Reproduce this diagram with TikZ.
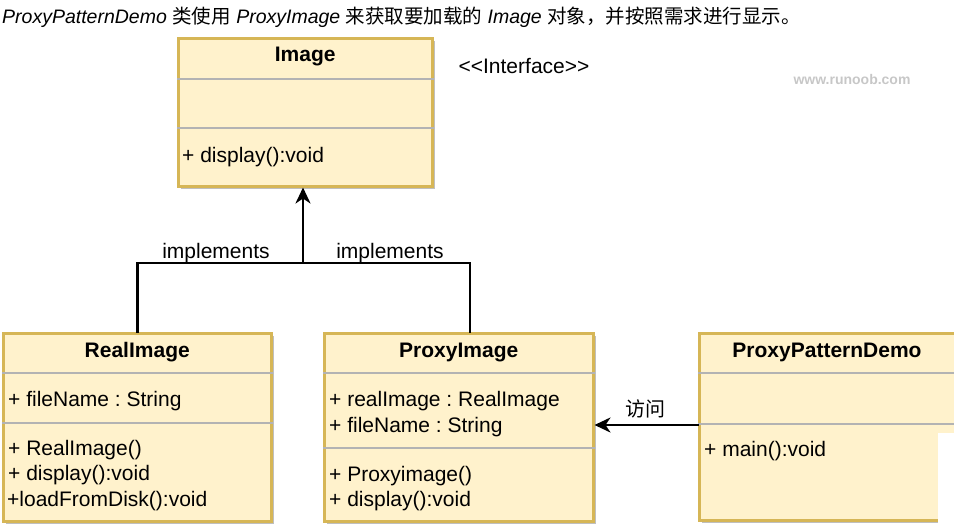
\documentclass[tikz,border=0pt]{standalone}
\usepackage{fontspec}
\setmainfont{Liberation Sans}
\newfontfamily\cjk{Noto Sans CJK SC}
\usetikzlibrary{arrows.meta,shadows,positioning}

\begin{document}
\frenchspacing
\begin{tikzpicture}[x=1pt,y=-1pt,
    classbox/.style={draw=boxline, fill=boxfill, line width=2.5pt, anchor=north west,
      inner sep=0pt, drop shadow={shadow xshift=3pt, shadow yshift=-3pt, fill=black!25, opacity=1}},
    sepline/.style={draw=sepgray, line width=1.5pt},
    head/.style={inner sep=0pt, yshift=-2pt, font=\fontsize{21}{25}\selectfont\bfseries},
    item/.style={anchor=west, inner sep=0pt, yshift=-2pt, font=\fontsize{21}{25}\selectfont},
    conn/.style={line width=2.5pt, line cap=rect},
    tip/.style={-{Stealth[length=16pt,width=15pt,inset=5pt]}}]
  \definecolor{boxfill}{HTML}{FFF2CC}
  \definecolor{boxline}{HTML}{D6B656}
  \definecolor{sepgray}{HTML}{B3B3B3}
  \useasboundingbox (0,0) rectangle (954,530);

  % caption line
  \node[anchor=west, inner sep=0pt, yshift=-1pt, font=\fontsize{19.5}{23}\selectfont] (caption) at (2,16)
    {\textit{ProxyPatternDemo} {\cjk 类使用} \textit{ProxyImage} {\cjk 来获取要加载的} \textit{Image} {\cjk 对象，并按照需求进行显示。}};

  % interface
  \node[classbox, minimum width=254pt, minimum height=148pt] (image) at (177,37) {};
  \draw[sepline] (image.west |- 0,79) -- (image.east |- 0,79);
  \draw[sepline] (image.west |- 0,128) -- (image.east |- 0,128);
  \node[head] (imagename) at (image.north |- 0,55) {Image};
  \node[item] (imageop) at (182,155) {+ display():void};
  \node[inner sep=0pt, yshift=-2pt, font=\fontsize{21}{25}\selectfont] (stereo) at (524,64) {{<}{<}Interface{>}{>}};
  \node[inner sep=0pt, yshift=-1pt, text=black!22, font=\fontsize{14}{16}\selectfont\bfseries] (mark) at (852,78) {www.runoob.com};

  % RealImage
  \node[classbox, minimum width=268pt, minimum height=188pt] (real) at (2,332) {};
  \draw[sepline] (real.west |- 0,373) -- (real.east |- 0,373);
  \draw[sepline] (real.west |- 0,423) -- (real.east |- 0,423);
  \node[head] (realname) at (real.north |- 0,350) {RealImage};
  \node[item] (realattr) at (8,399) {+ fileName : String};
  \node[item] (realop1) at (8,448) {+ RealImage()};
  \node[item] (realop2) at (8,473) {+ display():void};
  \node[item] (realop3) at (7,499) {+loadFromDisk():void};

  % ProxyImage
  \node[classbox, minimum width=269pt, minimum height=188pt] (proxy) at (323,332) {};
  \draw[sepline] (proxy.west |- 0,373) -- (proxy.east |- 0,373);
  \draw[sepline] (proxy.west |- 0,448) -- (proxy.east |- 0,448);
  \node[head] (proxyname) at (proxy.north |- 0,350) {ProxyImage};
  \node[item] (proxyattr1) at (329,399) {+ realImage : RealImage};
  \node[item] (proxyattr2) at (329,425) {+ fileName : String};
  \node[item] (proxyop1) at (329,474) {+ Proxyimage()};
  \node[item] (proxyop2) at (329,499) {+ display():void};

  % ProxyPatternDemo
  \node[classbox, minimum width=262pt, minimum height=187pt] (demo) at (698,332) {};
  \draw[sepline] (demo.west |- 0,373) -- (demo.east |- 0,373);
  \draw[sepline] (demo.west |- 0,424) -- (demo.east |- 0,424);
  \node[head] (demoname) at (827,350) {ProxyPatternDemo};
  \node[item] (demoop) at (704,449) {+ main():void};
  \fill[white] (938,433) rectangle (960,534);

  % connectors
  \coordinate (fork) at (303,263);
  \coordinate (proxytop) at (470,332);
  \draw[conn] (real.north) |- (fork) -| (proxytop);
  \draw[conn, tip] (fork) -- (image.south -| fork);
  \node[inner sep=0pt, yshift=-2pt, font=\fontsize{21}{25}\selectfont] (impl1) at (216,251) {implements};
  \node[inner sep=0pt, yshift=-2pt, font=\fontsize{21}{25}\selectfont] (impl2) at (390,251) {implements};
  \draw[conn, tip] (demo.west |- 0,425) -- (proxy.east |- 0,425);
  \node[inner sep=0pt, font=\cjk\fontsize{20}{24}\selectfont] (visit) at (645,409) {访问};
\end{tikzpicture}
\end{document}
